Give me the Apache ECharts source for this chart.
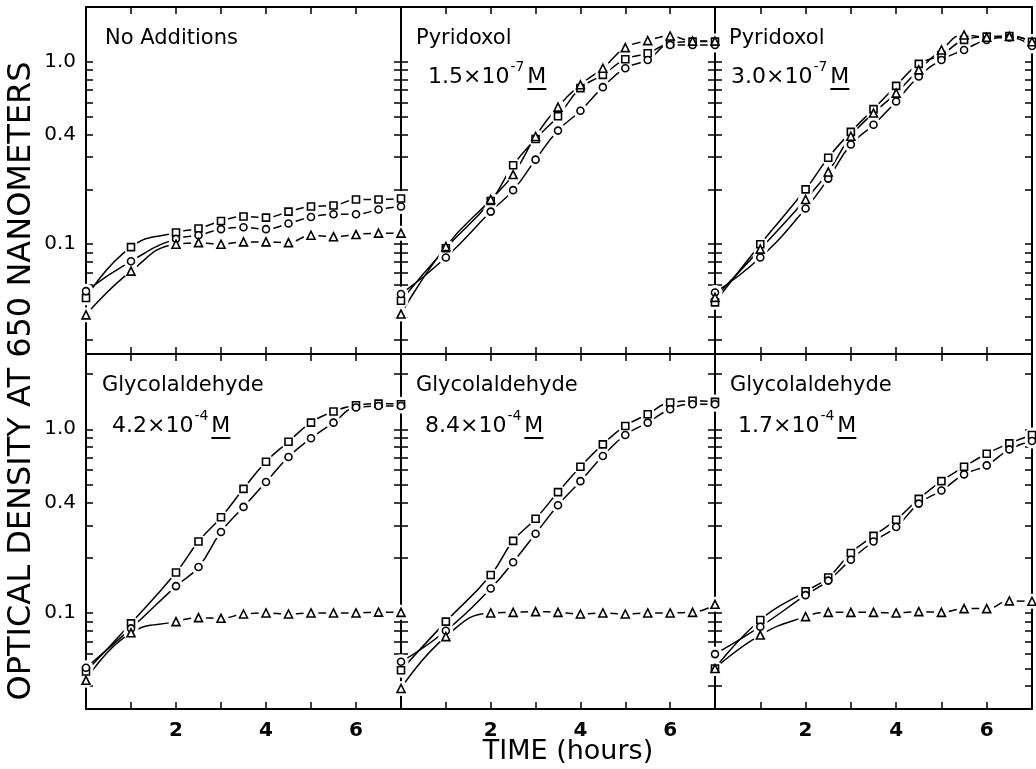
<!DOCTYPE html>
<html><head><meta charset="utf-8">
<script src="https://cdn.jsdelivr.net/npm/echarts@6/dist/echarts.min.js"></script>
<style>html,body{margin:0;padding:0;background:#fff}#c{width:1036px;height:769px}</style>
</head><body><div id="c"></div>
<script>
// ---- data ----
const hours = [0, 1, 2, 2.5, 3, 3.5, 4, 4.5, 5, 5.5, 6, 6.5, 7];

const noAddSquare   = [0.0507, 0.0964, 0.116, 0.122, 0.134, 0.142, 0.140, 0.151, 0.161, 0.163, 0.176, 0.176, 0.178];
const noAddCircle   = [0.0553, 0.0807, 0.107, 0.112, 0.121, 0.124, 0.121, 0.130, 0.141, 0.146, 0.146, 0.155, 0.161];
const noAddTriangle = [0.041, 0.0712, 0.100, 0.102, 0.100, 0.103, 0.103, 0.102, 0.112, 0.110, 0.113, 0.115, 0.115];

const pyr15Square   = [0.049, 0.095, 0.1725, 0.271, 0.378, 0.503, 0.718, 0.849, 1.034, 1.115, 1.265, 1.292, 1.292];
const pyr15Circle   = [0.0533, 0.0846, 0.151, 0.198, 0.291, 0.42, 0.54, 0.727, 0.923, 1.025, 1.238, 1.238, 1.238];
const pyr15Triangle = [0.0414, 0.097, 0.176, 0.241, 0.39, 0.565, 0.749, 0.923, 1.198, 1.308, 1.387, 1.30, 1.30];

const pyr30Square   = [0.048, 0.100, 0.200, 0.298, 0.413, 0.551, 0.739, 0.975, 1.09, 1.32, 1.376, 1.387, 1.29];
const pyr30Circle   = [0.0544, 0.0846, 0.157, 0.229, 0.352, 0.4525, 0.607, 0.832, 1.025, 1.163, 1.318, 1.36, 1.223];
const pyr30Triangle = [0.0511, 0.094, 0.176, 0.249, 0.391, 0.524, 0.674, 0.904, 1.163, 1.405, 1.364, 1.38, 1.29];

const gly42Square   = [0.048, 0.0878, 0.166, 0.245, 0.332, 0.474, 0.666, 0.856, 1.087, 1.249, 1.352, 1.38, 1.37];
const gly42Circle   = [0.0503, 0.0824, 0.140, 0.178, 0.276, 0.378, 0.516, 0.706, 0.893, 1.087, 1.314, 1.34, 1.34];
const gly42Triangle = [0.043, 0.078, 0.0897, 0.0943, 0.0935, 0.0987, 0.100, 0.0987, 0.100, 0.100, 0.100, 0.101, 0.1008];

const gly84Square   = [0.0488, 0.0897, 0.161, 0.247, 0.326, 0.455, 0.625, 0.828, 1.043, 1.208, 1.40, 1.43, 1.41];
const gly84Circle   = [0.0542, 0.080, 0.136, 0.189, 0.270, 0.386, 0.522, 0.715, 0.931, 1.087, 1.286, 1.37, 1.37];
const gly84Triangle = [0.0388, 0.0743, 0.100, 0.1008, 0.1017, 0.1008, 0.0987, 0.100, 0.0987, 0.100, 0.100, 0.1008, 0.1115];

const gly17Square   = [0.0498, 0.0916, 0.131, 0.156, 0.212, 0.263, 0.322, 0.418, 0.522, 0.625, 0.736, 0.838, 0.931];
const gly17Circle   = [0.0597, 0.0842, 0.125, 0.150, 0.195, 0.245, 0.294, 0.394, 0.464, 0.568, 0.636, 0.777, 0.864];
const gly17Triangle = [0.0498, 0.0758, 0.0955, 0.1008, 0.1008, 0.1008, 0.100, 0.1017, 0.1008, 0.1056, 0.1056, 0.1163, 0.1158];

const panelNames = ['No Additions', 'Pyridoxol', 'Pyridoxol', 'Glycolaldehyde', 'Glycolaldehyde', 'Glycolaldehyde'];
const panelConcMantissa = [null, '1.5', '3.0', '4.2', '8.4', '1.7'];
const panelConcExponent = [null, '-7', '-7', '-4', '-4', '-4'];
const xLabelValues = [2, 4, 6];
const yLabelValues = [0.1, 0.4, 1.0];
const yLabelTexts  = ['0.1', '0.4', '1.0'];
const yTickValues = [0.03, 0.04, 0.05, 0.06, 0.07, 0.08, 0.09, 0.1, 0.2, 0.3, 0.4, 0.5, 0.6, 0.7, 0.8, 0.9, 1.0, 2.0];
const xTitle = 'TIME (hours)';
const yTitle = 'OPTICAL DENSITY AT 650 NANOMETERS';

const panelSeries = [
  [noAddSquare, noAddCircle, noAddTriangle],
  [pyr15Square, pyr15Circle, pyr15Triangle],
  [pyr30Square, pyr30Circle, pyr30Triangle],
  [gly42Square, gly42Circle, gly42Triangle],
  [gly84Square, gly84Circle, gly84Triangle],
  [gly17Square, gly17Circle, gly17Triangle]
];

// ---- layout ----
const colLeft = [86, 401, 715];
const colRight = [401, 715, 1032];
const rowTop = [7, 354];
const rowBottom = [354, 709];
const rowYMin = [0.025, 0.03];
const rowYMax = [2.0, 2.57];
const symbols = ['rect', 'circle', 'triangle'];
const symSizes = [7, 7, 8];
const FONT = 'DejaVu Sans';

const chart = echarts.init(document.getElementById('c'), null, {renderer: 'canvas'});

const grids = [], xAxes = [], yAxes = [], series = [];
const axisLine = {show: true, onZero: false, lineStyle: {color: '#000', width: 2}};
const tickStyle = {color: '#000', width: 1.5};

for (let p = 0; p < 6; p++) {
  const r = Math.floor(p / 3), c = p % 3;
  grids.push({left: colLeft[c], top: rowTop[r], width: colRight[c] - colLeft[c], height: rowBottom[r] - rowTop[r]});
  const xBase = {gridIndex: p, type: 'value', min: 0, max: 7, interval: 1, axisLine, splitLine: {show: false},
    axisTick: {show: true, inside: true, length: 7, lineStyle: tickStyle}};
  xAxes.push(Object.assign({}, xBase, {position: 'bottom',
    axisLabel: {show: r === 1, customValues: xLabelValues, margin: 12, color: '#000', fontFamily: FONT, fontSize: 20, fontWeight: 'bold'}}));
  xAxes.push(Object.assign({}, xBase, {position: 'top', axisLabel: {show: false}}));
  const yBase = {gridIndex: p, type: 'log', logBase: 10, min: rowYMin[r], max: rowYMax[r], axisLine, splitLine: {show: false},
    minorTick: {show: false}, minorSplitLine: {show: false},
    axisTick: {show: true, inside: true, length: 7, lineStyle: tickStyle, customValues: yTickValues}};
  yAxes.push(Object.assign({}, yBase, {position: 'left',
    axisLabel: {show: c === 0, customValues: yLabelValues, margin: 10, color: '#000', fontFamily: FONT, fontSize: 20,
      formatter: v => { const i = yLabelValues.findIndex(a => Math.abs(a - v) < 1e-6); return i >= 0 ? yLabelTexts[i] : ''; }}}));
  yAxes.push(Object.assign({}, yBase, {position: 'right', axisLabel: {show: false}}));

  const xi = 2 * p, yi = 2 * p;
  const sets = panelSeries[p];
  // lines
  sets.forEach((vals, k) => {
    series.push({type: 'line', xAxisIndex: xi, yAxisIndex: yi, data: hours.map((h, j) => [h, vals[j]]),
      smooth: 0.5, showSymbol: false, symbol: 'none', clip: false, silent: true, z: 2,
      lineStyle: {color: '#000', width: 1.5}});
  });
  // white gaps around markers
  sets.forEach((vals, k) => {
    series.push({type: 'scatter', xAxisIndex: xi, yAxisIndex: yi, data: hours.map((h, j) => [h, vals[j]]),
      symbol: 'circle', symbolSize: 15, clip: false, silent: true, z: 3,
      itemStyle: {color: '#fff', borderWidth: 0, opacity: 1}});
  });
  // markers
  sets.forEach((vals, k) => {
    series.push({type: 'scatter', xAxisIndex: xi, yAxisIndex: yi, data: hours.map((h, j) => [h, vals[j]]),
      symbol: symbols[k], symbolSize: symSizes[k], clip: false, silent: true, z: 4,
      itemStyle: {color: '#fff', borderColor: '#000', borderWidth: 1.6, opacity: 1}});
  });
}

// ---- text graphics ----
const mctx = document.createElement('canvas').getContext('2d');
function tw(txt, size) { mctx.font = size + 'px "' + FONT + '"'; return mctx.measureText(txt).width; }

const graphics = [];
const nameY = [40, 387];
const concY = [79, 428];
const nameX = [105, 416, 729, 102, 416, 730];
const concX = [0, 428, 731, 112, 425, 738];
for (let p = 0; p < 6; p++) {
  const r = Math.floor(p / 3);
  graphics.push({type: 'text', left: nameX[p], top: nameY[r] - 12, z: 10,
    style: {text: panelNames[p], font: '21px "' + FONT + '"', fill: '#000'}});
  if (panelConcMantissa[p]) {
    const main = panelConcMantissa[p] + '×10';
    const fs = 22, sfs = 14;
    const w1 = tw(main, fs), w2 = tw(panelConcExponent[p], sfs), w3 = tw('M', fs);
    const x0 = concX[p], yTop = concY[r] - 13;
    graphics.push({type: 'text', left: x0, top: yTop, z: 10, style: {text: main, font: fs + 'px "' + FONT + '"', fill: '#000'}});
    graphics.push({type: 'text', left: x0 + w1 + 1, top: yTop - 6, z: 10, style: {text: panelConcExponent[p], font: sfs + 'px "' + FONT + '"', fill: '#000'}});
    const mx = x0 + w1 + w2 + 4;
    graphics.push({type: 'text', left: mx, top: yTop, z: 10, style: {text: 'M', font: fs + 'px "' + FONT + '"', fill: '#000'}});
    graphics.push({type: 'line', z: 10, shape: {x1: mx, y1: concY[r] + 10, x2: mx + w3, y2: concY[r] + 10}, style: {stroke: '#000', lineWidth: 2}});
  }
}
graphics.push({type: 'text', x: 568, y: 752, z: 10,
  style: {text: xTitle, font: '27px "' + FONT + '"', fill: '#000', align: 'center', verticalAlign: 'middle'}});
graphics.push({type: 'text', x: 22, y: 381, rotation: Math.PI / 2, z: 10,
  style: {text: yTitle, font: '32px "' + FONT + '"', fill: '#000', align: 'center', verticalAlign: 'middle'}});

chart.setOption({
  animation: false,
  backgroundColor: '#fff',
  grid: grids,
  xAxis: xAxes,
  yAxis: yAxes,
  series: series,
  graphic: graphics
});
</script></body></html>
